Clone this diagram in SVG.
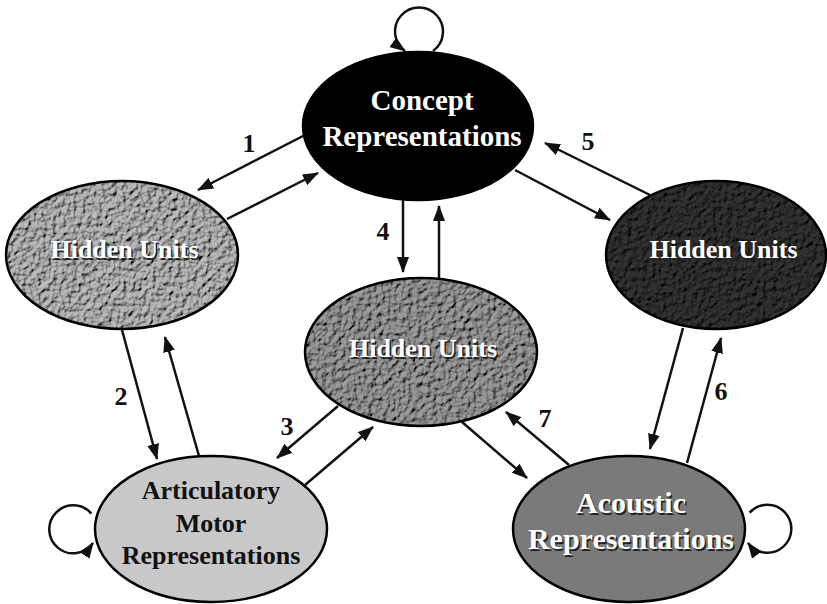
<svg xmlns="http://www.w3.org/2000/svg" width="827" height="604" viewBox="0 0 827 604">
<style>
.edge{stroke:#111;stroke-width:2.5;fill:none;marker-end:url(#ah)}
.outline{fill:none;stroke:#000;stroke-width:2.5}
.t{font-family:"Liberation Serif","Times New Roman",serif;font-weight:bold;text-anchor:middle}
.w{fill:#fff}
.sh{fill:#222}
.k{fill:#111}
.num{font-family:"Liberation Serif","Times New Roman",serif;font-weight:bold;font-size:26px;text-anchor:middle;fill:#111}
</style>
<defs>
<marker id="ah" markerWidth="16" markerHeight="12" refX="15" refY="6" orient="auto" markerUnits="userSpaceOnUse">
<path d="M0,0 L16,6 L0,12 Z" fill="#111"/>
</marker>
<filter id="hammer" x="-5%" y="-5%" width="110%" height="110%">
<feTurbulence type="fractalNoise" baseFrequency="0.2" numOctaves="2" seed="7" result="n"/>
<feDiffuseLighting in="n" surfaceScale="4" lighting-color="#fff" result="l"><feDistantLight azimuth="225" elevation="50"/></feDiffuseLighting>
<feComposite in="l" in2="SourceGraphic" operator="arithmetic" k1="1.35" k2="0" k3="0" k4="0" result="m"/>
<feComposite in="m" in2="SourceAlpha" operator="in"/>
</filter>
</defs>
<rect width="827" height="604" fill="#fff"/>

<g id="connectors">
<line class="edge" x1="305" y1="135" x2="198" y2="190"/>
<line class="edge" x1="227" y1="219" x2="318" y2="173"/>
<line class="edge" x1="403" y1="200" x2="403" y2="272"/>
<line class="edge" x1="439" y1="278" x2="439" y2="206"/>
<line class="edge" x1="650" y1="195" x2="545" y2="143"/>
<line class="edge" x1="515" y1="170" x2="610" y2="220"/>
<line class="edge" x1="122" y1="330" x2="157" y2="459"/>
<line class="edge" x1="199" y1="456" x2="165" y2="337"/>
<line class="edge" x1="338" y1="406" x2="277" y2="458"/>
<line class="edge" x1="305" y1="485" x2="373" y2="427"/>
<line class="edge" x1="462" y1="422" x2="527" y2="478"/>
<line class="edge" x1="569" y1="465" x2="506" y2="412"/>
<line class="edge" x1="683" y1="328" x2="650" y2="449"/>
<line class="edge" x1="687" y1="463" x2="721" y2="338"/>
<path class="edge" d="M433,51 A24,24 0 1 0 405,51"/>
<path class="edge" d="M91.4,513.6 A24,24 0 1 0 93,543"/>
<path class="edge" d="M749.6,512.6 A24,24 0 1 1 748,543"/>
<text class="num" x="249" y="152">1</text>
<text class="num" x="121" y="405">2</text>
<text class="num" x="287" y="435">3</text>
<text class="num" x="383" y="240">4</text>
<text class="num" x="588" y="150">5</text>
<text class="num" x="721" y="400">6</text>
<text class="num" x="545" y="427">7</text>
</g>

<g id="concept">
<ellipse cx="418" cy="126" rx="115" ry="74" fill="#000"/>
<ellipse class="outline" cx="418" cy="126" rx="115" ry="74"/>
<text class="t w" x="422" y="110" font-size="29">Concept</text>
<text class="t w" x="422" y="146" font-size="29">Representations</text>
</g>

<g id="hidden-left">
<ellipse cx="122" cy="255" rx="116" ry="74" fill="#a6a6a6" filter="url(#hammer)"/>
<ellipse class="outline" cx="122" cy="255" rx="116" ry="74"/>
<text class="t sh" x="126" y="259.5" font-size="26">Hidden Units</text>
<text class="t w" x="124.5" y="258" font-size="26">Hidden Units</text>
</g>

<g id="hidden-middle">
<ellipse cx="421" cy="352" rx="116" ry="74" fill="#8a8a8a" filter="url(#hammer)"/>
<ellipse class="outline" cx="421" cy="352" rx="116" ry="74"/>
<text class="t sh" x="424.5" y="358.5" font-size="26">Hidden Units</text>
<text class="t w" x="423" y="357" font-size="26">Hidden Units</text>
</g>

<g id="hidden-right">
<ellipse cx="716" cy="255" rx="110" ry="74" fill="#2c2c2c" filter="url(#hammer)"/>
<ellipse class="outline" cx="716" cy="255" rx="110" ry="74"/>
<text class="t sh" x="725" y="259.5" font-size="26">Hidden Units</text>
<text class="t w" x="723.5" y="258" font-size="26">Hidden Units</text>
</g>

<g id="articulatory">
<ellipse cx="211" cy="529" rx="116" ry="73" fill="#c8c8c8"/>
<ellipse class="outline" cx="211" cy="529" rx="116" ry="73"/>
<text class="t k" x="211" y="499" font-size="26">Articulatory</text>
<text class="t k" x="211" y="532" font-size="26">Motor</text>
<text class="t k" x="211" y="564" font-size="26">Representations</text>
</g>

<g id="acoustic">
<ellipse cx="629" cy="529" rx="116" ry="73" fill="#7a7a7a"/>
<ellipse class="outline" cx="629" cy="529" rx="116" ry="73"/>
<text class="t sh" x="632.5" y="514.5" font-size="30">Acoustic</text>
<text class="t w" x="631" y="513" font-size="30">Acoustic</text>
<text class="t sh" x="632.5" y="550.5" font-size="30">Representations</text>
<text class="t w" x="631" y="549" font-size="30">Representations</text>
</g>
</svg>
